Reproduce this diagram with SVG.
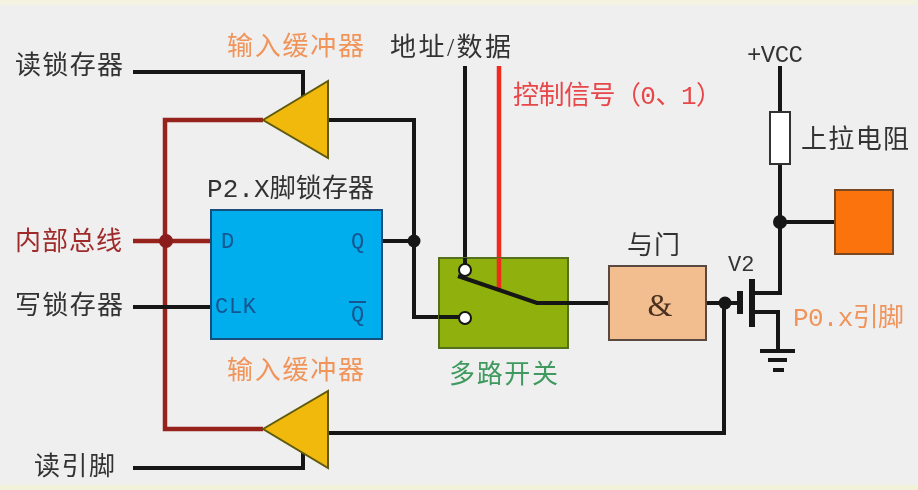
<svg xmlns="http://www.w3.org/2000/svg" width="918" height="490" viewBox="0 0 918 490">
<defs><filter id="soft" x="0" y="0" width="100%" height="100%"><feGaussianBlur stdDeviation="0.5"/></filter></defs>
<style>
text{font-family:"Liberation Serif","Noto Sans CJK SC",serif;font-size:26px;dominant-baseline:central;stroke:currentColor;stroke-width:0}
.m{font-family:"Liberation Mono","Noto Sans CJK SC",monospace}
.k{fill:#333}.o{fill:#f0945a}.r{fill:#e8474a}.dr{fill:#a02c2c}.g{fill:#3f9a5f}.b{fill:#15558f;font-size:22px}
.w{fill:none;stroke:#141414;stroke-width:4}
.wr{fill:none;stroke:#96201f;stroke-width:4.5}
.tri{fill:#f2b90c;stroke:#5f5a10;stroke-width:2}
</style>
<rect width="918" height="490" fill="#efefef"/>
<rect width="918" height="5" fill="#f4f3e2"/>
<rect y="485" width="918" height="5" fill="#f1f2d8"/>
<g filter="url(#soft)">
<g id="connectors">
<path class="w" d="M133 72H303V97"/>
<path class="wr" d="M263 120H165V429H263"/>
<path class="wr" d="M133 241H211"/>
<path class="w" d="M133 307H211"/>
<path class="w" d="M328 120H414V317H465"/>
<path class="w" d="M382 241H414"/>
<path class="w" d="M133 468H303V452"/>
<path class="w" d="M328 433H724V303"/>
<path class="w" d="M465 66V270"/>
<path d="M499 66V290" fill="none" stroke="#f02a1c" stroke-width="4.5"/>
<path class="w" d="M706 303H740"/>
<path class="w" d="M752 293H780V66"/>
<path class="w" d="M780 222H835"/>
<path class="w" d="M752 312H778V350"/>
</g>
<g id="read-latch-label"><text class="k" x="15" y="65" textLength="108">读锁存器</text></g>
<g id="bus-label"><text class="dr" x="15" y="241" textLength="107">内部总线</text></g>
<g id="write-latch-label"><text class="k" x="15" y="305" textLength="108">写锁存器</text></g>
<g id="read-pin-label"><text class="k" x="34" y="466" textLength="81">读引脚</text></g>
<g id="bus-junction"><circle cx="166" cy="241" r="7" fill="#8a1c1c"/></g>
<g id="buffer-top">
<text class="o" x="227" y="46" textLength="137">输入缓冲器</text>
<path class="tri" d="M263 120L328 81V158Z"/>
</g>
<g id="buffer-bottom">
<text class="o" x="227" y="370" textLength="137">输入缓冲器</text>
<path class="tri" d="M263 429L328 391V468Z"/>
</g>
<g id="latch">
<text class="k m" x="207" y="190" textLength="167">P2.X脚锁存器</text>
<rect x="211" y="210" width="171" height="129" fill="#02aeee" stroke="#14507e" stroke-width="2"/>
<text class="b m" x="221" y="242">D</text>
<text class="b m" x="351" y="242">Q</text>
<text class="b m" x="215" y="307" textLength="41">CLK</text>
<text class="b m" x="351" y="315">Q</text>
<path d="M349 302H366" stroke="#15558f" stroke-width="2"/>
</g>
<g id="q-junction"><circle cx="414" cy="241" r="6.5" fill="#141414"/></g>
<g id="address-data-label"><text class="k" x="390" y="47" textLength="121">地址/数据</text></g>
<g id="control-label"><text class="r m" x="513" y="97" textLength="209">控制信号（0、1）</text></g>
<g id="mux">
<rect x="439" y="258" width="129" height="90" fill="#8fb008" stroke="#55701a" stroke-width="2"/>
<path class="w" d="M465 258V270"/>
<path d="M499 258V290" fill="none" stroke="#f02a1c" stroke-width="4.5"/>
<path class="w" d="M458 276L537 303H610"/>
<path class="w" d="M439 317H465"/>
<circle cx="465" cy="270" r="6" fill="#fff" stroke="#141414" stroke-width="2"/>
<circle cx="465" cy="318" r="6" fill="#fff" stroke="#141414" stroke-width="2"/>
<text class="g" x="449" y="374" textLength="109">多路开关</text>
</g>
<g id="and-gate">
<text class="k" x="627" y="245" textLength="53">与门</text>
<rect x="609" y="266" width="97" height="74" fill="#f2be8f" stroke="#5a4a40" stroke-width="2"/>
<text x="660" y="305" text-anchor="middle" style="font-size:32px" fill="#4a3020">&amp;</text>
</g>
<g id="transistor">
<text class="k m" x="728" y="265" style="font-size:22px">V2</text>
<circle cx="725" cy="303" r="6.5" fill="#141414"/>
<path d="M740 291V314M752 279V327" stroke="#141414" stroke-width="6" fill="none"/>
<path d="M760 351H795M768 360H787M773 370H784" stroke="#141414" stroke-width="4" fill="none"/>
<text class="o m" x="793" y="319" textLength="111">P0.x引脚</text>
</g>
<g id="vcc"><text class="k m" x="747" y="55" textLength="56" style="font-size:24px">+VCC</text></g>
<g id="pullup">
<rect x="770" y="112" width="20" height="52" fill="#fff" stroke="#333" stroke-width="2"/>
<text class="k" x="801" y="139" textLength="108">上拉电阻</text>
</g>
<g id="vcc-junction"><circle cx="780" cy="222" r="7" fill="#141414"/></g>
<g id="pin"><rect x="835" y="190" width="58" height="64" fill="#fb7308" stroke="#7a4a20" stroke-width="2"/></g>
</g>
</svg>
